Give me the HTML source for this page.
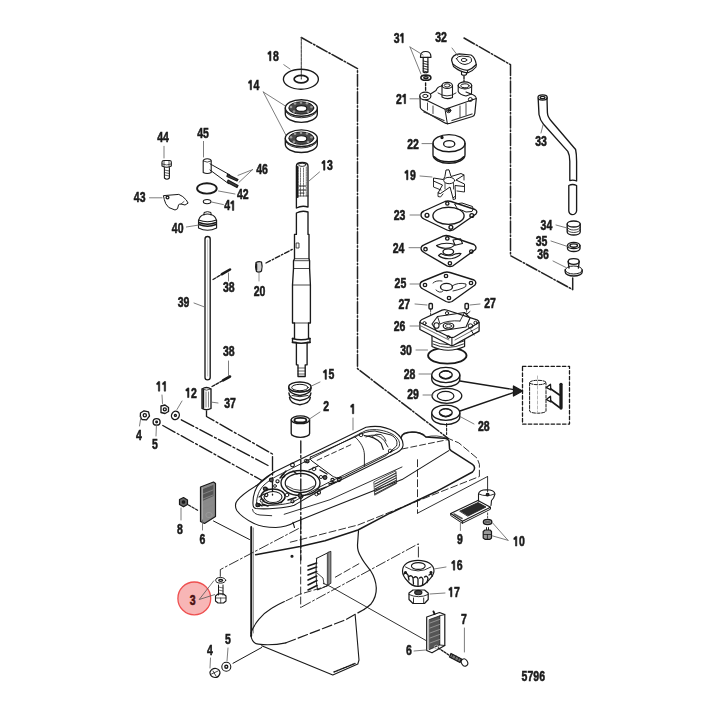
<!DOCTYPE html>
<html><head><meta charset="utf-8"><style>
html,body{margin:0;padding:0;background:#fff;width:720px;height:720px;overflow:hidden}
svg{display:block}
text{font-family:"Liberation Sans",sans-serif;font-weight:bold;font-size:14px;text-anchor:middle;stroke:#1a1a1a;stroke-width:0.55px}
</style></head><body>
<svg width="720" height="720" viewBox="0 0 720 720">
<rect width="720" height="720" fill="#fff"/>
<g fill="none" stroke="#1a1a1a" stroke-width="1.35" stroke-linejoin="round" stroke-linecap="round">
<!-- ===== dashed frames ===== -->
<g stroke="#222" stroke-width="1.5" stroke-dasharray="12,2,1.5,2">
<path d="M301.3,37.5 L357.5,68.6 L357.5,368.7 L436,429 L448,438.3"/>
<path d="M464,38 L510.5,64.7 L510.5,255.6 L572.7,289.6 L572.7,278"/>
</g>
<path d="M301.3,37.5 L301.3,79" stroke-width="1.1" stroke="#444" stroke-dasharray="3,1"/>
<!-- ===== washer 18 ===== -->
<ellipse cx="300.9" cy="79.2" rx="17.5" ry="10"/>
<ellipse cx="301.1" cy="79.1" rx="7" ry="3.8" stroke-width="1.7"/>
<!-- ===== bearings 14 ===== -->
<g id="brg">
<path d="M285.3,108 L285.3,114 A16,8.3 0 0 0 317.3,114 L317.3,108"/>
<path d="M285.5,111 A16,8 0 0 0 317.1,111" stroke-width="0.9"/>
<ellipse cx="301.3" cy="108" rx="16" ry="8.3" fill="#fff"/>
<ellipse cx="301.3" cy="108" rx="12.5" ry="6.2" fill="#4a4a4a" stroke-width="1"/>
<g fill="#999" stroke="none"><circle cx="291" cy="107" r="1.3"/><circle cx="295" cy="103.5" r="1.3"/><circle cx="307" cy="103.3" r="1.3"/><circle cx="311.5" cy="107" r="1.3"/><circle cx="308" cy="111.8" r="1.3"/><circle cx="294" cy="111.5" r="1.3"/><circle cx="301" cy="102.6" r="1.2"/></g>
<ellipse cx="301.3" cy="108.5" rx="5.5" ry="2.9" fill="#fff" stroke-width="1.1"/>
</g>
<use href="#brg" transform="translate(0,30.2)"/>
<!-- ===== shaft 13 ===== -->
<path d="M296.4,208 L296.4,166 Q296.4,162.5 302.2,162.5 Q308,162.5 308,166 L308,207 Q302,205 296.4,208"/>
<path d="M297.6,167 L297.6,197" stroke-width="2" stroke-dasharray="2,0.8"/>
<path d="M300.5,168 L300.5,196 M303.5,168 L303.5,196 M306.3,167 L306.3,196" stroke-width="0.8" stroke-dasharray="1.5,1" stroke="#555"/>
<ellipse cx="302.2" cy="164.8" rx="3.6" ry="1.6" stroke-width="0.9"/>
<path d="M299,186 L306,186 M299,190 L306,190 M300,193 L305,193" stroke-width="1.1" stroke-dasharray="1.5,1"/>
<path d="M296.4,196 L308,196" stroke-width="0.7"/>
<path d="M296.4,213 Q302,210 308,212 L308,234.4 L309,234.4 L309,258.7 L309.6,260.7 L309.6,268.5 L310.4,285 L310.4,323 L308.5,323 L308.5,338.5 L310,338.5 L310,342.4 L307.1,342.4 L307.1,364.8 L305.2,364.8 L305.2,376.5 L298,376.5 L298,364.8 L296.4,364.8 L296.4,342.4 L292.5,342.4 L292.5,338.5 L294.5,338.5 L294.5,323 L292.5,323 L292.5,285 L293.5,268.5 L293.5,260.7 L294.5,258.7 L294.5,234.4 L296.4,234.4 Z"/>
<path d="M294.5,258.7 L309,258.7 M293.5,260.7 L309.6,260.7 M293.5,268.5 L309.6,268.5 M292.5,285 L310.4,285 M294.5,323 L308.5,323" stroke-width="0.8"/>
<path d="M292.5,338.5 Q301,341 310,338.5 M292.5,342.4 Q301,344 310,342.4" stroke-width="1.6"/>
<path d="M298,368 L305,368 M298,371 L305,371 M298,374 L305,374" stroke-width="0.7"/>
<rect x="296.5" y="243" width="2.5" height="5" stroke-width="0.8"/>
<!-- key 20 -->
<path d="M256,262.5 Q258.5,261 261.5,262 Q262.8,266.5 261.5,271 Q259,272.8 256.5,271.5 Q255,266.5 256,262.5 Z" stroke-width="1.2" fill="#d0d0d0"/>
<path d="M256.5,264 L256.5,270" stroke-width="1.5"/>
<path d="M266,263 L293,249" stroke-dasharray="5,2,1.5,2"/>
<path d="M259,272 L259,281" stroke="#777" stroke-width="0.8"/>
<!-- ===== rod 39 ===== -->
<path d="M205,239 Q205,236.5 207.5,236.5 Q210.2,236.5 210.2,239 L210.2,377.5 Q210.2,379.8 207.5,379.8 Q205,379.8 205,377.5 Z"/>
<path d="M207.6,240 L207.6,376" stroke-width="0.5" stroke="#888"/>
<!-- pins 38 -->
<path d="M222,274.2 L230,269.5" stroke-width="2.6"/>
<path d="M213,279.5 L221,274.8" stroke-dasharray="3,1.5"/>
<path d="M223,380.4 L230,376.5" stroke-width="2.6"/>
<path d="M212,386.5 L222,381" stroke-dasharray="3,1.5"/>
<!-- coupler 37 -->
<path d="M202,389 L202,408.5 Q206.5,411 211,408.5 L211,389 Q206.5,386 202,389 Z"/>
<path d="M202,389 Q206.5,391.5 211,389" stroke-width="0.8"/>
<path d="M203.3,390 L203.3,408" stroke-width="1.8"/><path d="M206,392 L206,407 M208.5,392 L208.5,407" stroke-width="0.8" stroke="#666"/>
<!-- ===== 44 bolt ===== -->
<path d="M162,162 Q162,160.5 164,160.5 L169.5,160.5 Q171.3,160.5 171.3,162 L171.3,166 Q166.6,168.5 162,166 Z" stroke-width="1.1"/>
<path d="M162,164 Q166.6,166 171.3,164 M164,160.7 L164,166.5 M169,160.7 L169,166.5" stroke-width="0.7"/>
<path d="M164.4,167.5 L164.4,178 Q166.9,180.5 169.4,178 L169.4,167.5" stroke-width="1.1"/>
<path d="M164.4,170 L169.4,171 M164.4,172.5 L169.4,173.5 M164.4,175 L169.4,176" stroke-width="0.7"/>
<!-- 45 / 46 lever -->
<path d="M203.2,161 Q203.5,158.8 207.2,158.8 Q211,158.8 211.2,161 L211.2,172.5 Q207.2,174.5 203.2,172.5 Z" stroke-width="1.1"/>
<path d="M203.2,161 Q207.2,163.5 211.2,161" stroke-width="0.8"/>
<path d="M210,163.8 L230,175 M210,170 L228.8,183.8" stroke-width="1"/>
<path d="M227.5,174.4 L238,179.5 L237,181 L227,176.5 Z M228,180 L238,185.5 L237,187.5 L227.5,182.5 Z" stroke-width="1.2" fill="#444"/>
<!-- 42 o-ring -->
<ellipse cx="206.9" cy="188.4" rx="9.8" ry="5.2" stroke-width="1.9"/>
<!-- 41 -->
<ellipse cx="207.1" cy="201.6" rx="3.8" ry="2.1" stroke-width="1.1"/>
<!-- 43 plate -->
<path d="M163.8,195.6 L178.8,194.4 Q183,196 186.3,200 L188.1,203.1 L185,205 L181,204 Q178.8,203.8 178.5,205 L177.5,208.8 L175,210 L168.8,207.5 Q165,204 164.4,200 Z" stroke-width="1"/>
<circle cx="167.5" cy="197.5" r="1.4"/>
<path d="M181,204 L184,201.5" stroke-width="0.7"/>
<!-- 40 -->
<path d="M204,215 L204,212.5 Q207.5,210.8 211,212.5 L211,215" stroke-width="1"/>
<path d="M198.8,220 Q199.5,216 204,214.5 Q207.5,213.5 211,214.5 Q215.5,216 216.3,220" stroke-width="1.1"/>
<path d="M198.5,220 L198.5,228 Q207.5,232.5 216.6,228 L216.6,220 Q207.5,223.5 198.5,220 Z" stroke-width="1.1"/>
<path d="M199,222.5 Q207.5,226 216,222.5 M199,224.5 Q207.5,228 216,224.5" stroke-width="1.5"/>
<!-- ===== small parts 11,12,4,5 ===== -->
<path d="M161,406 L165,405 L168.5,407.5 L168.5,411.5 L165,413.5 L161,412.5 Z"/>
<circle cx="164.8" cy="409.3" r="1.5"/>
<ellipse cx="175.4" cy="415.4" rx="3.8" ry="4.3" transform="rotate(30 175.4 415.4)"/>
<circle cx="175.4" cy="415.4" r="1"/>
<path d="M140.5,413 L144,410.8 L148.5,411.8 L149.5,416 L146.5,419.8 L142,419.5 L140.3,416.5 Z" stroke-width="1.3"/><circle cx="144.8" cy="415.3" r="1.6"/>
<ellipse cx="156.6" cy="421.9" rx="3.5" ry="3.2"/>
<circle cx="156.6" cy="421.9" r="0.8"/>
<!-- assembly lines -->
<g stroke-dasharray="14,2.5,2,2.5">
<path d="M206.5,411 L206.5,416.5 L272.5,454 L272.5,495"/>
<path d="M181.3,419.8 L268,465.5"/>
<path d="M162.8,425.5 L262,480.5"/>
</g>
<!-- ===== spring 15 / bushing 2 ===== -->
<g stroke-width="1.4">
<ellipse cx="299.9" cy="387" rx="11.2" ry="5"/>
<ellipse cx="299.9" cy="387.5" rx="8.2" ry="3.2" stroke-width="1"/>
<path d="M288.7,388 Q288.5,393.5 299.9,395.5 Q311.3,393.5 311.1,388"/>
<path d="M288.9,393 Q289,399 299.9,400.5 Q310.8,399 310.9,393"/>
<path d="M289.5,397.5 Q290,403.5 299.9,404.7 Q309.8,403.5 310.3,397.5"/>
<path d="M292,391 Q299.9,393.5 308,391 M292,395.5 Q299.9,398 308,395.5" stroke-width="0.9"/>
</g>
<ellipse cx="300.4" cy="419.8" rx="9.2" ry="3.9"/>
<ellipse cx="300.4" cy="420.2" rx="6" ry="2.3" stroke-width="1.8"/>
<path d="M291.2,419.8 L291.2,433.4 A9.2,3.9 0 0 0 309.6,433.4 L309.6,419.8"/>
<path d="M300.8,441 L300.8,560" stroke-dasharray="12,2.5,2,2.5"/>
<!-- ===== pump: 31 bolt, 32 cap ===== -->
<path d="M420.5,56.5 Q420.5,51.5 425.6,51.5 Q430.9,51.5 430.9,56.5 L430.9,57.4 L420.5,57.4 Z" stroke-width="1.2"/>
<path d="M423.2,57.4 L423.2,72 Q425.6,73.5 427.9,72 L427.9,57.4" stroke-width="1.2"/>
<path d="M423.2,61 L427.9,62 M423.2,63.5 L427.9,64.5 M423.2,66 L427.9,67 M423.2,68.5 L427.9,69.5 M423.2,71 L427.9,72" stroke-width="0.9"/>
<ellipse cx="425.9" cy="77.7" rx="5" ry="2.6" stroke-width="1.6"/>
<ellipse cx="425.9" cy="77.7" rx="2.2" ry="1" />
<path d="M425.6,82.8 L425.6,91" stroke-dasharray="3,1.5"/>
<path d="M451.6,60.3 Q452,55 459.2,53.9 L471,55 Q475,57 476.3,64.5 Q472,69 467.5,70.4 Q460,70 452.7,63.9 Z" stroke-width="1.2"/>
<path d="M452.7,63.9 L453.5,66.5 Q460,72 467.5,73 Q473,71 476,67 L476.3,64.5 M467.5,70.4 L467.5,73" stroke-width="1.1"/>
<path d="M456.5,58.5 Q458,56 462,56 L469.5,56.8 Q472,58 471.5,61.5 Q469,64 465,64.5 Q459,64 456.5,58.5 Z" stroke-width="1"/>
<ellipse cx="464" cy="60" rx="2.8" ry="1.6" stroke-width="0.9"/>
<path d="M461.5,72 L461.5,74.5 Q464,76 466.5,74.5 L466.5,72.5" stroke-width="1.1"/>
<path d="M464,76 L464,81.6" stroke-dasharray="3,1.5"/>
<!-- 21 cover -->
<path d="M420,96.5 L420.3,107.6 Q421,109.5 423,110.5 L444,122.5 Q447.4,124.5 451,123 L472.5,116.5 Q474.6,115.5 474.8,113.5 L476.3,98.5" stroke-width="1.2"/>
<path d="M425.5,99.8 L445,109.2 L476.3,98.5 Q476,95.5 471,94 L466,92" stroke-width="1.1"/>
<path d="M445,109.2 L447.4,124" stroke-width="1"/>
<path d="M430.5,94 L436,90.5 Q437,87 441.5,86 L442,85.5" stroke-width="1.1"/>
<ellipse cx="425.3" cy="96" rx="5.6" ry="3.8" stroke-width="1.2"/>
<ellipse cx="425.3" cy="96" rx="2.6" ry="1.6" stroke-width="1"/>
<path d="M442,85.4 L442,97 Q447,100 452.5,97.5 L452.5,85.4" stroke-width="1.1"/>
<ellipse cx="447.2" cy="85.4" rx="5.2" ry="3" stroke-width="1.1"/>
<ellipse cx="447.2" cy="85.4" rx="3" ry="1.6" stroke-width="0.9"/>
<path d="M438,93 Q447,99 456,93" stroke-width="0.9"/>
<path d="M458.2,85.4 L458.2,91.5 Q460,95 466,96 L471.5,94 L471.7,85.4" stroke-width="1.1"/>
<ellipse cx="464.9" cy="85.4" rx="6.8" ry="3.5" stroke-width="1.1"/>
<ellipse cx="464.9" cy="85.8" rx="4.2" ry="2" stroke-width="1"/>
<circle cx="448.6" cy="110.5" r="2.2" stroke-width="1"/><circle cx="448.6" cy="110.5" r="0.8" fill="#222"/>
<circle cx="470.4" cy="99.5" r="2" stroke-width="1"/>
<path d="M427.5,103 L427.5,110 M433,106 L433,113.5 M460,106 L460,117.5 M466,103.5 L466,115" stroke-width="0.8"/>
<path d="M424,112 L444,120.5 M452,120.5 L472,114" stroke-width="1.3" stroke="#333"/>
<!-- 22 liner -->
<path d="M433,143.2 L433,154.7 A16,8.6 0 0 0 465,154.7 L465,143.2"/>
<ellipse cx="449" cy="143.2" rx="16" ry="8.6"/>
<ellipse cx="449.2" cy="143.9" rx="5.6" ry="3.3"/>
<path d="M434.5,157 A16,8.3 0 0 0 463.5,157" stroke-width="1.7"/>
<circle cx="442" cy="137.5" r="1" fill="#222"/>
<!-- 19 impeller -->
<g stroke-width="1">
<path d="M445,176 L446,170 L449,169.8 L451,176.5 L461,173.5 L464,175 L456,180 L464.5,184 L464.5,186.5 L455,185.5 L455.5,196 L453,198 L450,187 L440.5,193.5 L438,193 L442.5,185 L433.5,181 L433.5,178 L443,179.5 Z"/>
<path d="M433.5,181 L433.5,187 L441,190 M438,193 L438,196.5 L440.5,197 L443,194 M453,198 L453,199.5 L455.5,199 L455.5,196 M464.5,186.5 L464.5,192 L457,191 M464,175 L464,180" stroke-width="0.9"/>
<ellipse cx="449.2" cy="180.5" rx="5.5" ry="3.2"/>
<path d="M445,183 L445,189 M453.5,183 L453.5,189" stroke-width="0.8"/>
</g>
<!-- 23 gasket -->
<path d="M421,215 Q421,212 424,211 L445,201.5 Q448,200.5 451,201.5 L475,209.5 Q478,211 476,214 L453,230 Q450,231.5 447,230 L424,219 Q421,217.5 421,215 Z"/>
<ellipse cx="448.5" cy="215.8" rx="15.6" ry="8.6"/>
<circle cx="427" cy="215.3" r="1.9"/><circle cx="447.3" cy="203.5" r="1.6"/><circle cx="471.8" cy="215.5" r="1.9"/><circle cx="450.9" cy="227.3" r="1.9"/>
<path d="M455,204 L462,203 L472.5,206.5 Q474,209 472,211.5 L466,212 Q462,210 458,209 Z" stroke-width="1"/>
<!-- 24 plate -->
<path d="M421,248.6 Q421,246 424,244.8 L443,236.2 Q446,235 449,236 L474,244.5 Q477,246.5 475.5,249.5 L453,265.8 Q450,267.3 447,265.8 L424,252.5 Q421,251 421,248.6 Z"/>
<circle cx="425.5" cy="249.2" r="1.7"/><circle cx="447.3" cy="238.4" r="1.7"/><circle cx="471.3" cy="251.5" r="1.7"/><circle cx="449.9" cy="263.3" r="1.7"/>
<ellipse cx="448.3" cy="251.8" rx="5.3" ry="3"/>
<path d="M453,240 L460.5,238.8 L462.5,243.5 L455,245.3 Z" stroke-width="1.1"/>
<path d="M436.5,245.5 Q445,241.5 455,244.5 Q452,248.5 445,248.3 Q439,248 436.5,245.5 Z" stroke-width="1.1"/>
<path d="M438.5,255.5 Q443,259.5 452,258.5 Q459,257 461,253.5 Q456,253 452,255.5 Q446,256.5 441,253.5 Z" stroke-width="1.1"/>
<!-- 25 gasket -->
<path d="M420,285 Q420,282 423,281 L444,272.5 Q447,271.5 450,272.5 L474,280 Q477,282 475,285 L452,301.5 Q449,303 446,301.5 L423,289 Q420,287.5 420,285 Z"/>
<circle cx="425" cy="285" r="1.7"/><circle cx="446" cy="276" r="1.7"/><circle cx="471" cy="283" r="1.7"/><circle cx="449" cy="298" r="1.7"/>
<ellipse cx="446.5" cy="287" rx="6" ry="3.6"/>
<path d="M433,283 Q436,280 442,281 M436,290 Q440,294 443,291 M452,286 Q458,282 466,284 Q467,287 463,288 Q458,290 453,291" stroke-width="0.9"/>
<!-- 27 pins -->
<rect x="429" y="303.5" width="3.4" height="5.5" rx="1"/>
<rect x="465" y="303.5" width="3.4" height="5.5" rx="1"/>
<path d="M430.6,309.5 L430.6,317 M466.6,309.5 L466.6,320" stroke-dasharray="2,1.5" stroke-width="0.8"/>
<!-- 30 o-ring -->
<ellipse cx="447.3" cy="355.6" rx="19.2" ry="8" stroke-width="1.9"/>
<!-- 26 pump base -->
<path d="M432,334 L432,346.5 Q448,354 464.6,346.5 L464.6,334 Z" fill="#fff" stroke-width="1.2"/>
<path d="M432.5,341 Q448,348.5 464,341 M433,344 Q448,351 463.5,344" stroke-width="1" stroke="#333"/>
<path d="M419.9,322.4 Q420,320.5 422,319.5 L442,310.2 Q444.2,309.3 446.5,310 L477,319.8 Q479.1,320.9 479.1,323 L479.1,331.1 L454,345 Q451.9,346.2 449.8,345 L419.9,329.5 Z" fill="#fff" stroke-width="1.3"/>
<path d="M419.9,322.4 L449.5,337 Q451.9,338 454.3,337 L479.1,322.5 M451.9,338 L451.9,345.7" stroke-width="1.1"/>
<path d="M421,326 L449,340 M455,340 L478,327.5" stroke-width="0.8" stroke="#444"/>
<path d="M432,324 L437.5,316.5 L464.5,312.5 L470,318 L466,327 L437,331.5 Z" stroke-width="1.1"/>
<ellipse cx="448.5" cy="326" rx="5.3" ry="3" stroke-width="1.2"/>
<ellipse cx="448.5" cy="326" rx="3.2" ry="1.6" stroke-width="0.8"/>
<path d="M437.5,316.5 L440,324 M464.5,312.5 L460,321 M440,324 Q448,320 460,321" stroke-width="0.9"/>
<ellipse cx="436.5" cy="325.5" rx="2.6" ry="2.8" stroke-width="1.1"/>
<ellipse cx="470.5" cy="326" rx="2.4" ry="2.2" stroke-width="1"/>
<circle cx="424.5" cy="323.2" r="1.6" stroke-width="1"/><circle cx="447" cy="313.2" r="1.6" stroke-width="1"/><circle cx="475.5" cy="322.8" r="1.6" stroke-width="1"/><circle cx="448.5" cy="337" r="1.4" stroke-width="1"/>
<path d="M467,314 L470,311.5 M471,330 L474,335" stroke-width="1"/>
<!-- 28,29,28 -->
<g id="w28">
<path d="M431.8,375 L431.8,379.2 A14,7.6 0 0 0 459.8,379.2 L459.8,375"/>
<ellipse cx="445.8" cy="375" rx="14" ry="7.6" fill="#fff"/>
<ellipse cx="445.8" cy="374.8" rx="6.4" ry="4" stroke-width="1.4"/>
<path d="M440.5,376.5 Q445.8,381 451,376.5" stroke-width="1.6"/>
<path d="M441,372.5 Q445.8,369.5 450.5,372.5" stroke-width="1"/>
</g>
<use href="#w28" transform="translate(0,37.8)"/>
<ellipse cx="446.9" cy="395.8" rx="14.9" ry="7.5" stroke-width="1.3"/>
<ellipse cx="445.6" cy="396" rx="8.3" ry="4.6" stroke-width="1.2"/>
<path d="M460,381 L514,389.6 M460,411 L514,392.4"/>
<path d="M522.5,391 L513.5,386 L513.5,396 Z" fill="#222"/>
<rect x="522.5" y="366.3" width="47" height="57.8" stroke-dasharray="3.5,2.2" stroke-width="1.3"/>
<g stroke-dasharray="3,1.5" stroke-width="1">
<path d="M529.6,383 L529.6,411 A8.2,2.2 0 0 0 546,411 L546,383.5"/>
<ellipse cx="537.8" cy="382.5" rx="8.2" ry="2.2"/>
</g>
<path d="M537.5,376 L537.5,412" stroke-dasharray="3,2" stroke-width="0.7" stroke="#999"/>
<path d="M561,384.3 L561,408.1" stroke-width="3.3"/>
<path d="M549.5,388 L559.5,395 M549.5,400 L559.5,407.5" stroke-width="1.6"/>
<path d="M546.3,387.5 L550.5,384.3 L550.8,389.8 Z M546.3,399.5 L550.5,396.3 L550.8,401.8 Z" stroke-width="1.3" fill="#fff"/>
<!-- 33 tube -->
<path d="M538.2,98.9 L539,114.5 Q540,120 543.5,124.2 L567.8,151.4 Q569.8,155 569.8,161.2 L569.8,180.6 Q573,179.5 576.6,181 L576.6,161.2 Q576.6,154 575.6,149.5 L552.3,122.3 Q547.4,117 547.4,112.5 L547,98"/>
<ellipse cx="542.6" cy="97.5" rx="4.6" ry="2.6"/>
<ellipse cx="542.6" cy="97.5" rx="2.4" ry="1.2"/>
<path d="M568.8,185.5 Q572.5,183.5 576.6,185.5 L576.6,211 Q576,214.5 572,214.7 Q569,214 568.8,211 Z"/>
<!-- 34 35 36 -->
<path d="M567.2,224 L567.2,232 A6.5,3 0 0 0 580.2,232 L580.2,224"/>
<ellipse cx="573.7" cy="224" rx="6.5" ry="3" stroke-width="1.3"/>
<path d="M567.2,227 A6.5,3 0 0 0 580.2,227 M567.2,229.5 A6.5,3 0 0 0 580.2,229.5" stroke-width="0.8"/>
<path d="M567.5,245.5 L567.5,248.5 A6.2,3 0 0 0 580,248.5 L580,245.5"/>
<ellipse cx="573.7" cy="245.5" rx="6.2" ry="3.2" stroke-width="1.3"/>
<ellipse cx="573.7" cy="245.5" rx="3.8" ry="1.7"/>
<ellipse cx="573.7" cy="261.5" rx="5.5" ry="2.8" stroke-width="1.3"/>
<path d="M568.2,261.5 L569,268 M579.2,261.5 L578.4,268"/>
<path d="M565.2,270 A8.5,4 0 0 0 582.2,270 A8.5,4 0 0 0 565.2,270 Z" stroke-width="1"/>
<path d="M565.2,270 L565.2,272 A8.5,4 0 0 0 582.2,272 L582.2,270" />
<!-- ===== HOUSING ===== -->
<!-- plate outer (nose) -->
<path d="M274.3,472 C269,475.5 263,481 256.9,485.3 C250,489.5 241,495.5 237.2,500.6 C235.3,503 235,507 237,510.8 C240,515 247,520 253.6,523.3 C259,526 268,527.5 275.8,527.5 C283,527.3 290,525 295.3,522 L330,508 L402,479.6 L448.8,450.6" stroke-width="1.1"/>
<!-- deck -->
<path d="M253,504 C252.5,496 255.5,487 261,481.5 C265,478 269,475 274.3,472 L366,427.3 C375,425.5 386,426.5 395,432 C400.5,436 403.5,441 403,445.6 C402.5,449 400,451 397,452.5 L330.6,485 C318,491 305,499 294.2,505.3 C286,508 266,509.5 256,508.5 C253.5,508 253,506 253,504 Z" stroke-width="1.1"/>
<path d="M256.5,503.5 C256.5,497 259,490 264,485 C268,481.5 272,478.5 277,476 L366,430.5 C375,428.5 385,430 393,434.5 C397.5,437.5 400,441 399.5,445 C399,447.5 397.5,448.5 395.5,449.5 L329.5,482 C317,488 304,496 293,502 C285,505 267,506 259,505.5 Z" stroke-width="0.9"/>
<path d="M252.5,509.5 C253,513 256,514.5 260,515 L271.7,515.7 M284.2,514.3 L330,499.7 L402,467" stroke-width="0.9"/>
<!-- bores -->
<ellipse cx="300.5" cy="483" rx="15.3" ry="9.7" stroke-width="1.2"/>
<ellipse cx="300.5" cy="483" rx="19.5" ry="12.5"/>
<path d="M287,486 Q300.5,495 314,486" stroke-width="0.8"/>
<ellipse cx="273" cy="497" rx="9" ry="5.5" stroke-width="1.1"/>
<ellipse cx="273" cy="496.5" rx="12" ry="7.5"/>
<g stroke-width="0.9">
<circle cx="262" cy="500.5" r="1.8"/><circle cx="266" cy="489" r="1.8"/><circle cx="283" cy="476" r="1.8"/>
<circle cx="287" cy="495" r="1.8"/><circle cx="314" cy="469" r="1.8"/><circle cx="316.5" cy="494" r="1.8"/>
<circle cx="306" cy="461" r="1.8"/><circle cx="339.7" cy="479.2" r="1.8"/><circle cx="361.1" cy="434.9" r="1.8"/>
<circle cx="390.1" cy="450.9" r="1.8"/><circle cx="259" cy="505" r="1.6"/><circle cx="301" cy="497" r="1.6"/>
<circle cx="275" cy="486" r="1.4"/><circle cx="321" cy="477" r="1.6"/>
</g>
<path d="M259,497 L264,494 M257,503 L262,506 M281,503 L285,498 M293,471 L297,474 M309,470 L318,466 M318,490 L326,487" stroke-width="1.2"/>
<!-- extra deck detail -->
<g stroke-width="1.1">
<circle cx="271.3" cy="480" r="1.9" fill="#555"/><circle cx="277.5" cy="481.3" r="1.6"/>
<circle cx="292.5" cy="465" r="1.9"/><circle cx="307.5" cy="461.3" r="1.6" fill="#666"/>
<circle cx="325" cy="477.5" r="1.9" fill="#555"/><circle cx="332.5" cy="480" r="1.6"/>
<circle cx="338.8" cy="480" r="1.6"/><circle cx="265" cy="488.8" r="1.7" fill="#555"/>
<circle cx="266.3" cy="495" r="1.6"/><circle cx="300" cy="495.5" r="1.9" fill="#555"/>
<circle cx="318.8" cy="492.5" r="1.7"/><circle cx="257.5" cy="505" r="1.7" fill="#444"/>
<circle cx="292.5" cy="501.3" r="1.6"/>
</g>
<path d="M280,478 L286,471 M288,500 L296,497.5 M262,504 L268,506 M320,470 L327,474 M329,484 L336,482" stroke-width="1.4"/>
<path d="M364.4,435.6 C370,436 377,439 381.1,443.3 L383.3,449.5" stroke-width="1.1"/><path d="M372,436.5 Q376,433 381,434.5 Q385,437 386,441" stroke-width="0.9"/>
<!-- rear opening -->
<path d="M310.5,457 L356,436.5 C362,433 368,431 375,431 L391,435 C396,437.5 398,441.5 396.5,446 L386,455.5 L344.5,476.5 C338,479 334,477.5 331,475 L312,461 C310,459.5 309.5,458 310.5,457 Z" stroke-width="1"/>
<path d="M354.7,436.7 C361,442 364.4,449 364.4,455 L364.4,466" stroke-width="0.9"/>
<path d="M366,437 C372,433.5 380,435 384.5,441 L388,447" stroke-width="0.9"/>
<path d="M317.2,460.3 L353.3,443.6" stroke-dasharray="5,3" stroke-width="0.9"/>
<!-- plate behind deck (bump, tip, right edge, bottom) -->
<path d="M401,437.8 C402,433.5 406,432 412,432 C418,432 423,434 426,437 L447,438.5 L449,441 L449.6,449 L451,450.6 L472.5,464.3 C475,466 475.5,469.5 472.5,472 L435.8,491.8 L390,513.2 L358,530 L325,540.8 L300,546.5 L255.6,554.7" stroke-width="1.5"/>
<path d="M404,434 Q415,430 424,434.5 M426,437 Q437,434 447,438.5" stroke-width="0.8"/>
<path d="M402,449 L446.5,439.9" stroke-dasharray="6,3" stroke-width="0.9"/>
<path d="M446.6,423.5 L446.6,434.5" stroke-dasharray="3,1.5" stroke-width="1.1"/>
<!-- decal -->
<path d="M374.2,481.7 L395.8,470.8 L396.7,483.3 L375,495 Z" stroke-width="0.7"/>
<path d="M375,484 L396,473 M375,486.5 L396,475.5 M375,489 L396,478 M375,491.5 L396,480.5 M375,494 L396,483" stroke-width="1.2" stroke="#333"/>
<!-- strut -->
<path d="M251.2,527 L251.2,636" stroke-width="1.9"/><path d="M253.3,528 L253.3,633" stroke-width="0.8" stroke="#666"/>
<path d="M250.8,635 Q252,643.5 258.3,644.2 C268,645.3 278,644.5 286,642.8" stroke-width="1.2"/>
<path d="M286,642.8 L345,620 L364,609.5" stroke-width="1.2" stroke-dasharray="10,3"/>
<path d="M364,609.5 C367,607.5 369,606 371,604 C374,600 376.5,595 376.3,588 C376,582 374,576 370.5,570.5 C367,566 363.5,562 361,557 C358.5,553 357.3,550 357.5,545 L358.5,530.7" stroke-width="1.2"/>
<path d="M250.8,633.3 C254,624 262,614 271.7,608.3 C276,605.5 280,603.5 284.4,601.5" stroke-width="1.1"/>
<path d="M261.7,645.8 L332.8,675 L357.8,664 L359,660 L355.2,615.3" stroke-width="1.1"/>
<path d="M334,672 L355,663.5" stroke-width="1.4" stroke-dasharray="1.5,1"/>
<!-- hidden dashed rect & lines -->
<g stroke-dasharray="7,3" stroke-width="0.9">
<path d="M300.7,517 L300.7,607.5"/>
<path d="M290.3,542.2 L358,525"/>
<path d="M286,600.8 L299.4,594.4 L327.2,586.1"/>
<path d="M358.8,563.8 L333,578.5"/>
<path d="M417.5,459.7 L417.5,513.2"/>
<path d="M358,525 L430,496 L479.4,476.5 L479.4,464.3 L477.1,458.2 L458.8,442.9 L448,438.3"/>

</g>
<path d="M417.5,513.2 L487.6,476.5" stroke-width="0.9"/>
<path d="M418.4,557 L418.4,543.8 L300.7,607.5" stroke-dasharray="10,2.5,2,2.5" stroke-width="0.9"/>
<!-- intake screen -->
<path d="M316.7,558.3 L330.8,551.3 L330.8,583.3 L325,586.7 L317.5,590 Q315,575 316.7,558.3 Z" stroke-width="1"/>
<path d="M327.5,553 L327.5,584.5 M329,552 L329,584" stroke-width="1.3" stroke="#555"/>
<path d="M308,566 L316.7,563 M308,570 L316.7,567 M308,575 L316.7,571.5 M308,580 L316.7,576 M308,585 L317,580.5 M308,590 L317,585.5" stroke-width="1.6"/>
<path d="M317,573 L323,578 L324,584" stroke-width="0.8"/>
<circle cx="292" cy="556.3" r="0.9" fill="#222"/>
<path d="M293,522.3 L294.5,527.5" stroke-width="1.1"/>
<!-- lines to intake / 6 / 3 / 5 -->
<path d="M323.3,583.3 L330,586.3 L426,640.5" stroke-width="0.9"/>
<path d="M220.3,576.4 L220.3,569.6 L300,527.8" stroke-dasharray="10,2.5,2,2.5" stroke-width="0.9"/>
<path d="M233,663.3 L261.7,647.5" stroke-width="1"/>
<path d="M213.5,521 L249.5,539.5" stroke-width="1"/>
<!-- 8 nut / 6 upper -->
<path d="M179.5,499.5 L183.5,497.5 L187.5,500 L187.5,504.5 L183.5,506.8 L179.5,504.5 Z" stroke-width="1.2" fill="#666"/>
<circle cx="183.5" cy="502" r="1.2" fill="#222"/>
<path d="M188.5,505 L198,510.5" stroke-dasharray="2.5,1.5" stroke-width="1.2"/>
<path d="M200.5,487 L213.5,482 L215.5,483.5 L215.5,516.5 L204.5,523.5 L200.5,521.5 Z" stroke-width="1.2" fill="#8a8a8a"/>
<path d="M202.5,489 L213.5,484.5 L213.5,496 L202.5,501 Z" fill="#555" stroke="none"/>
<path d="M203,488.5 L213,484.5 M203,494 L213,490 M203,499 L213,495 M203,504 L213,500 M203,509 L213,505" stroke="#888" stroke-width="0.9"/>
<path d="M202.5,488 L202.5,521" stroke="#aaa" stroke-width="0.9"/>
<ellipse cx="209" cy="515" rx="3.2" ry="2.6" stroke="#999" stroke-width="1"/>
<!-- 3 washer & bolt -->
<ellipse cx="220.7" cy="580.3" rx="5" ry="2.8" stroke-width="1"/>
<ellipse cx="220.7" cy="580.3" rx="2" ry="1"/>
<path d="M218.5,585 L218.5,595 M223,585 L223,595" stroke-width="1"/>
<path d="M218.5,587 L223,588 M218.5,590 L223,591 M218.5,593 L223,594" stroke-width="0.6"/>
<path d="M215.5,596 L218,594 L223.5,594 L226,596 L226,601 L223.5,603 L218,603 L215.5,601 Z" stroke-width="1.1"/>
<path d="M215.5,598 L226,598 M220.7,598 L220.7,603" stroke-width="0.7"/>
<!-- 5 & 4 lower -->
<circle cx="226.3" cy="666.7" r="4.5" stroke-width="1.1"/>
<circle cx="226.3" cy="666.7" r="1.5"/>
<path d="M210,672 Q212,668 216,668.5 Q220,669.5 220,673 Q219,677.5 215,677.5 Q210.5,677 210,673 Z" stroke-width="1.2"/>
<path d="M211.5,674 L218,671 M213,671 L216,676" stroke-width="0.8"/>
<!-- 9 anode, 10 -->
<path d="M450.7,513.5 L477.9,500.4 L490.5,507.2 L462.4,521.3 Z" stroke-width="1.1"/>
<path d="M450.7,513.5 L450.7,515.5 L462.4,523.3 L490.5,509.2 L490.5,507.2 M462.4,521.3 L462.4,523.3" stroke-width="1"/>
<path d="M460,511 L478,502.5 L486,507 L468,516 Z" fill="#2a2a2a" stroke-width="0.8"/>
<path d="M454,514 L462,518.5" stroke-width="1.6" stroke="#555"/>
<path d="M478.5,501 L478.5,494 Q479,490 486.6,489.8 Q494.5,490 495,494 L493.5,498 L491.5,500.5 L491,505.5" stroke-width="1.1"/>
<path d="M478.8,494 Q486.6,497.5 494.5,494" stroke-width="0.9"/>
<circle cx="487.6" cy="494.6" r="1.3" fill="#333"/>
<path d="M487.6,491.8 L487.6,477" stroke-width="0.9"/>
<path d="M487.6,513 L487.6,518" stroke-dasharray="2,1.5" stroke-width="0.8"/>
<ellipse cx="487.6" cy="522" rx="4.2" ry="2.6" stroke-width="1.4" fill="#999"/>
<path d="M485.5,522 L489.5,522" stroke-width="0.8"/>
<path d="M486.5,527.6 L486.5,530.5 M488.5,527.6 L488.5,530.5" stroke-width="1"/>
<path d="M483.2,531.5 L485,530 L490,530 L491.5,531.5 L491.5,538 L490,539.3 L485,539.3 L483.2,538 Z" stroke-width="1.2" fill="#999"/>
<path d="M483.5,534.5 L491.3,534.5 M487.4,534.5 L487.4,539" stroke-width="0.8"/>
<!-- 16 gear -->
<path d="M402.5,571 C402.5,564 409.5,560.3 418,560.3 C426.5,560.3 434,564 434,571 C434,575 431,578 428,581 Q423,586.5 418,586.3 Q412,586.5 407.5,581 C404.5,578 402.5,575 402.5,571 Z" stroke-width="1.2"/>
<ellipse cx="418.3" cy="566" rx="6.9" ry="3.4" stroke-width="1.1"/>
<path d="M405.5,567 Q418,575 431,567" stroke-width="0.9"/>
<path d="M404,574 Q406,572 408,575 L409,580 M409,576.5 Q411.5,574.5 413,578 L413.5,584 M414,577.5 Q416.5,575.5 418,579 L418,585.5 M419.5,578 Q422,576 423,579.5 L422.5,585 M424.5,577 Q427,575 428,578.5 L427,582.5 M429,575 Q431.5,573 432.5,576" stroke-width="1.3"/>
<circle cx="405.5" cy="572.5" r="0.9" fill="#222"/><circle cx="431" cy="572.5" r="0.9" fill="#222"/>
<!-- 17 nut -->
<path d="M409,593 L413,590 L424.5,590 L428.2,593 L428.2,599.5 L424.5,603.5 L413,603.5 L409,599.5 Z" stroke-width="1.2"/>
<path d="M409,594.5 Q418.6,599 428.2,594.5 M413.5,598 L413.5,603.3 M423.7,598 L423.7,603.3" stroke-width="0.9"/>
<ellipse cx="418.3" cy="592.6" rx="3.6" ry="2.2" stroke-width="1.1" fill="#444"/>
<!-- 6 lower -->
<path d="M426.7,617 L439.5,612.5 L444.8,614.5 L444.8,645.5 L432,652.8 L426.7,650.5 Z" stroke-width="1.2" fill="#fff"/>
<path d="M429.5,619.5 L439.8,615.8 L439.8,645 L429.5,649.5 Z" fill="#555" stroke-width="0.8"/>
<path d="M439.8,615.8 L444.8,614.5 M439.8,645 L444.8,645.5" stroke-width="0.9"/>
<path d="M430,623 L439.5,619.5 M430,628 L439.5,624.5 M430,633 L439.5,629.5 M430,638 L439.5,634.5 M430,643 L439.5,639.5" stroke="#999" stroke-width="0.9"/>
<path d="M433.5,611.5 L434.5,614" stroke-width="2"/>
<ellipse cx="436.5" cy="647" rx="2.3" ry="1.8" stroke="#aaa" stroke-width="0.8"/>
<!-- 7 bolt -->
<path d="M438.4,648 L450,655.8" stroke-dasharray="2,1.5"/>
<path d="M451,653.5 L461.5,659 L460,662.5 L449.5,657 Z" stroke-width="1.3" fill="#777"/>
<path d="M453,654.5 L451.5,658 M456,656 L454.5,659.5 M459,657.5 L457.5,661" stroke-width="0.8"/>
<ellipse cx="464.5" cy="662.5" rx="3" ry="3.8" transform="rotate(-30 464.5 662.5)" stroke-width="1.1"/>
<g stroke="#666" stroke-width="0.85" fill="none">
<path d="M283.8,64.7 L290,69"/>
<path d="M263.3,92 L284.7,105.6 M263.3,92 L285.7,134.8"/>
<path d="M164,146.3 L164,158"/>
<path d="M203.5,141.4 L203.5,157"/>
<path d="M252.6,169.6 L238,175.4 M252.6,169.6 L239,182.3"/>
<path d="M235,194 L218.5,191"/>
<path d="M223.4,204.6 L211.5,202"/>
<path d="M149.5,197.8 L162,197.8"/>
<path d="M186.4,227 L199,225"/>
<path d="M319.5,172 L309,181"/>
<path d="M228.5,281 L228.5,273"/>
<path d="M194,303 L204.5,307"/>
<path d="M228.5,361 L228.5,376"/>
<path d="M218,403 L210.5,402"/>
<path d="M162,395 L162.5,403.5"/>
<path d="M182,401 L177,409.5"/>
<path d="M139.5,426 L141,416.5"/>
<path d="M156,436 L156.4,426"/>
<path d="M320,382 L311.5,386"/>
<path d="M320,412 L309.5,419"/>
<path d="M353,418 L353,430"/>
<path d="M181,508 L181,520"/>
<path d="M202.5,520 L202.5,530"/>
<path d="M228,648 L227,661"/>
<path d="M210.5,658 L210,668"/>
<path d="M410,47 L423,55 M410,47 L421,74"/>
<path d="M452,48 L458,56"/>
<path d="M410,98.8 L419.5,98.8"/>
<path d="M422,143.6 L432,143.6"/>
<path d="M420,176 L432,177"/>
<path d="M410,215 L421,215"/>
<path d="M409,247.7 L421,247.7"/>
<path d="M410,284 L420,284"/>
<path d="M415,304 L427,305"/>
<path d="M480,304 L470,305"/>
<path d="M410,326 L420,326"/>
<path d="M416,350 L427.5,350"/>
<path d="M419,374 L431,374"/>
<path d="M423,395 L433,395"/>
<path d="M474,424 L460,416.5"/>
<path d="M541,133 L543,125"/>
<path d="M556,225 L567,228"/>
<path d="M551,241 L567.5,246.5"/>
<path d="M553,261 L566,267.5"/>
<path d="M460.4,530.5 L460.4,523"/>
<path d="M508,540.3 L492.5,522.8 M508,540.3 L492.5,535.9"/>
<path d="M446,567 L434,569"/>
<path d="M445,593 L430,594"/>
<path d="M414,651 L426,650"/>
<path d="M464.4,628 L464.4,652"/>
</g>

</g>
<circle cx="194.3" cy="598.4" r="16.4" fill="#f8b6b6" stroke="#ee5050" stroke-width="1.3"/>
<g stroke="#555" stroke-width="0.8" fill="none"><path d="M199.2,599.5 L214,580.5 M199.2,599.5 L215,594.5"/></g>
<g opacity="0.995">
<path transform="translate(267.16,60.85)" d="M2.415,-9.66 L3.78,-9.66 L3.78,0 L2.415,0 L2.415,-6.58 L0.735,-6.58 L0.735,-7.98 Z" fill="#1a1a1a" stroke="#1a1a1a" stroke-width="0.55"/><text transform="translate(273.00,60.85) scale(0.75,1)" fill="#1a1a1a" style="text-anchor:start">8</text>
<path transform="translate(247.76,89.85)" d="M2.415,-9.66 L3.78,-9.66 L3.78,0 L2.415,0 L2.415,-6.58 L0.735,-6.58 L0.735,-7.98 Z" fill="#1a1a1a" stroke="#1a1a1a" stroke-width="0.55"/><text transform="translate(253.60,89.85) scale(0.75,1)" fill="#1a1a1a" style="text-anchor:start">4</text>
<text transform="translate(157.16,142.05) scale(0.75,1)" fill="#1a1a1a" style="text-anchor:start">4</text><text transform="translate(163.00,142.05) scale(0.75,1)" fill="#1a1a1a" style="text-anchor:start">4</text>
<text transform="translate(197.16,138.45) scale(0.75,1)" fill="#1a1a1a" style="text-anchor:start">4</text><text transform="translate(203.00,138.45) scale(0.75,1)" fill="#1a1a1a" style="text-anchor:start">5</text>
<text transform="translate(256.16,174.45) scale(0.75,1)" fill="#1a1a1a" style="text-anchor:start">4</text><text transform="translate(262.00,174.45) scale(0.75,1)" fill="#1a1a1a" style="text-anchor:start">6</text>
<text transform="translate(236.96,198.85) scale(0.75,1)" fill="#1a1a1a" style="text-anchor:start">4</text><text transform="translate(242.80,198.85) scale(0.75,1)" fill="#1a1a1a" style="text-anchor:start">2</text>
<text transform="translate(224.16,210.45) scale(0.75,1)" fill="#1a1a1a" style="text-anchor:start">4</text><path transform="translate(230.00,210.45)" d="M2.415,-9.66 L3.78,-9.66 L3.78,0 L2.415,0 L2.415,-6.58 L0.735,-6.58 L0.735,-7.98 Z" fill="#1a1a1a" stroke="#1a1a1a" stroke-width="0.55"/>
<text transform="translate(133.86,201.65) scale(0.75,1)" fill="#1a1a1a" style="text-anchor:start">4</text><text transform="translate(139.70,201.65) scale(0.75,1)" fill="#1a1a1a" style="text-anchor:start">3</text>
<text transform="translate(171.86,232.85) scale(0.75,1)" fill="#1a1a1a" style="text-anchor:start">4</text><text transform="translate(177.70,232.85) scale(0.75,1)" fill="#1a1a1a" style="text-anchor:start">0</text>
<path transform="translate(321.16,170.15)" d="M2.415,-9.66 L3.78,-9.66 L3.78,0 L2.415,0 L2.415,-6.58 L0.735,-6.58 L0.735,-7.98 Z" fill="#1a1a1a" stroke="#1a1a1a" stroke-width="0.55"/><text transform="translate(327.00,170.15) scale(0.75,1)" fill="#1a1a1a" style="text-anchor:start">3</text>
<text transform="translate(253.66,295.75) scale(0.75,1)" fill="#1a1a1a" style="text-anchor:start">2</text><text transform="translate(259.50,295.75) scale(0.75,1)" fill="#1a1a1a" style="text-anchor:start">0</text>
<text transform="translate(222.96,291.85) scale(0.75,1)" fill="#1a1a1a" style="text-anchor:start">3</text><text transform="translate(228.80,291.85) scale(0.75,1)" fill="#1a1a1a" style="text-anchor:start">8</text>
<text transform="translate(177.66,307.35) scale(0.75,1)" fill="#1a1a1a" style="text-anchor:start">3</text><text transform="translate(183.50,307.35) scale(0.75,1)" fill="#1a1a1a" style="text-anchor:start">9</text>
<text transform="translate(222.96,356.45) scale(0.75,1)" fill="#1a1a1a" style="text-anchor:start">3</text><text transform="translate(228.80,356.45) scale(0.75,1)" fill="#1a1a1a" style="text-anchor:start">8</text>
<text transform="translate(224.16,407.65) scale(0.75,1)" fill="#1a1a1a" style="text-anchor:start">3</text><text transform="translate(230.00,407.65) scale(0.75,1)" fill="#1a1a1a" style="text-anchor:start">7</text>
<path transform="translate(155.96,391.15)" d="M2.415,-9.66 L3.78,-9.66 L3.78,0 L2.415,0 L2.415,-6.58 L0.735,-6.58 L0.735,-7.98 Z" fill="#1a1a1a" stroke="#1a1a1a" stroke-width="0.55"/><path transform="translate(161.80,391.15)" d="M2.415,-9.66 L3.78,-9.66 L3.78,0 L2.415,0 L2.415,-6.58 L0.735,-6.58 L0.735,-7.98 Z" fill="#1a1a1a" stroke="#1a1a1a" stroke-width="0.55"/>
<path transform="translate(185.16,397.55)" d="M2.415,-9.66 L3.78,-9.66 L3.78,0 L2.415,0 L2.415,-6.58 L0.735,-6.58 L0.735,-7.98 Z" fill="#1a1a1a" stroke="#1a1a1a" stroke-width="0.55"/><text transform="translate(191.00,397.55) scale(0.75,1)" fill="#1a1a1a" style="text-anchor:start">2</text>
<text transform="translate(135.98,439.75) scale(0.75,1)" fill="#1a1a1a" style="text-anchor:start">4</text>
<text transform="translate(152.08,449.45) scale(0.75,1)" fill="#1a1a1a" style="text-anchor:start">5</text>
<path transform="translate(322.66,379.35)" d="M2.415,-9.66 L3.78,-9.66 L3.78,0 L2.415,0 L2.415,-6.58 L0.735,-6.58 L0.735,-7.98 Z" fill="#1a1a1a" stroke="#1a1a1a" stroke-width="0.55"/><text transform="translate(328.50,379.35) scale(0.75,1)" fill="#1a1a1a" style="text-anchor:start">5</text>
<text transform="translate(323.33,411.10) scale(0.75,1)" fill="#1a1a1a" style="text-anchor:start">2</text>
<path transform="translate(349.98,413.75)" d="M2.415,-9.66 L3.78,-9.66 L3.78,0 L2.415,0 L2.415,-6.58 L0.735,-6.58 L0.735,-7.98 Z" fill="#1a1a1a" stroke="#1a1a1a" stroke-width="0.55"/>
<text transform="translate(177.08,533.60) scale(0.75,1)" fill="#1a1a1a" style="text-anchor:start">8</text>
<text transform="translate(199.58,543.60) scale(0.75,1)" fill="#1a1a1a" style="text-anchor:start">6</text>
<text transform="translate(224.88,644.05) scale(0.75,1)" fill="#1a1a1a" style="text-anchor:start">5</text>
<text transform="translate(207.08,654.85) scale(0.75,1)" fill="#1a1a1a" style="text-anchor:start">4</text>
<text transform="translate(393.66,42.85) scale(0.75,1)" fill="#1a1a1a" style="text-anchor:start">3</text><path transform="translate(399.50,42.85)" d="M2.415,-9.66 L3.78,-9.66 L3.78,0 L2.415,0 L2.415,-6.58 L0.735,-6.58 L0.735,-7.98 Z" fill="#1a1a1a" stroke="#1a1a1a" stroke-width="0.55"/>
<text transform="translate(435.16,41.85) scale(0.75,1)" fill="#1a1a1a" style="text-anchor:start">3</text><text transform="translate(441.00,41.85) scale(0.75,1)" fill="#1a1a1a" style="text-anchor:start">2</text>
<text transform="translate(395.96,103.65) scale(0.75,1)" fill="#1a1a1a" style="text-anchor:start">2</text><path transform="translate(401.80,103.65)" d="M2.415,-9.66 L3.78,-9.66 L3.78,0 L2.415,0 L2.415,-6.58 L0.735,-6.58 L0.735,-7.98 Z" fill="#1a1a1a" stroke="#1a1a1a" stroke-width="0.55"/>
<text transform="translate(407.16,148.65) scale(0.75,1)" fill="#1a1a1a" style="text-anchor:start">2</text><text transform="translate(413.00,148.65) scale(0.75,1)" fill="#1a1a1a" style="text-anchor:start">2</text>
<path transform="translate(404.16,179.85)" d="M2.415,-9.66 L3.78,-9.66 L3.78,0 L2.415,0 L2.415,-6.58 L0.735,-6.58 L0.735,-7.98 Z" fill="#1a1a1a" stroke="#1a1a1a" stroke-width="0.55"/><text transform="translate(410.00,179.85) scale(0.75,1)" fill="#1a1a1a" style="text-anchor:start">9</text>
<text transform="translate(393.66,219.85) scale(0.75,1)" fill="#1a1a1a" style="text-anchor:start">2</text><text transform="translate(399.50,219.85) scale(0.75,1)" fill="#1a1a1a" style="text-anchor:start">3</text>
<text transform="translate(392.66,252.55) scale(0.75,1)" fill="#1a1a1a" style="text-anchor:start">2</text><text transform="translate(398.50,252.55) scale(0.75,1)" fill="#1a1a1a" style="text-anchor:start">4</text>
<text transform="translate(394.56,288.35) scale(0.75,1)" fill="#1a1a1a" style="text-anchor:start">2</text><text transform="translate(400.40,288.35) scale(0.75,1)" fill="#1a1a1a" style="text-anchor:start">5</text>
<text transform="translate(398.46,309.35) scale(0.75,1)" fill="#1a1a1a" style="text-anchor:start">2</text><text transform="translate(404.30,309.35) scale(0.75,1)" fill="#1a1a1a" style="text-anchor:start">7</text>
<text transform="translate(484.16,308.35) scale(0.75,1)" fill="#1a1a1a" style="text-anchor:start">2</text><text transform="translate(490.00,308.35) scale(0.75,1)" fill="#1a1a1a" style="text-anchor:start">7</text>
<text transform="translate(393.66,330.75) scale(0.75,1)" fill="#1a1a1a" style="text-anchor:start">2</text><text transform="translate(399.50,330.75) scale(0.75,1)" fill="#1a1a1a" style="text-anchor:start">6</text>
<text transform="translate(400.16,354.85) scale(0.75,1)" fill="#1a1a1a" style="text-anchor:start">3</text><text transform="translate(406.00,354.85) scale(0.75,1)" fill="#1a1a1a" style="text-anchor:start">0</text>
<text transform="translate(403.66,378.60) scale(0.75,1)" fill="#1a1a1a" style="text-anchor:start">2</text><text transform="translate(409.50,378.60) scale(0.75,1)" fill="#1a1a1a" style="text-anchor:start">8</text>
<text transform="translate(407.16,399.35) scale(0.75,1)" fill="#1a1a1a" style="text-anchor:start">2</text><text transform="translate(413.00,399.35) scale(0.75,1)" fill="#1a1a1a" style="text-anchor:start">9</text>
<text transform="translate(477.91,431.10) scale(0.75,1)" fill="#1a1a1a" style="text-anchor:start">2</text><text transform="translate(483.75,431.10) scale(0.75,1)" fill="#1a1a1a" style="text-anchor:start">8</text>
<text transform="translate(535.16,145.55) scale(0.75,1)" fill="#1a1a1a" style="text-anchor:start">3</text><text transform="translate(541.00,145.55) scale(0.75,1)" fill="#1a1a1a" style="text-anchor:start">3</text>
<text transform="translate(540.56,230.25) scale(0.75,1)" fill="#1a1a1a" style="text-anchor:start">3</text><text transform="translate(546.40,230.25) scale(0.75,1)" fill="#1a1a1a" style="text-anchor:start">4</text>
<text transform="translate(535.66,245.85) scale(0.75,1)" fill="#1a1a1a" style="text-anchor:start">3</text><text transform="translate(541.50,245.85) scale(0.75,1)" fill="#1a1a1a" style="text-anchor:start">5</text>
<text transform="translate(537.16,258.55) scale(0.75,1)" fill="#1a1a1a" style="text-anchor:start">3</text><text transform="translate(543.00,258.55) scale(0.75,1)" fill="#1a1a1a" style="text-anchor:start">6</text>
<text transform="translate(456.98,544.45) scale(0.75,1)" fill="#1a1a1a" style="text-anchor:start">9</text>
<path transform="translate(513.06,546.05)" d="M2.415,-9.66 L3.78,-9.66 L3.78,0 L2.415,0 L2.415,-6.58 L0.735,-6.58 L0.735,-7.98 Z" fill="#1a1a1a" stroke="#1a1a1a" stroke-width="0.55"/><text transform="translate(518.90,546.05) scale(0.75,1)" fill="#1a1a1a" style="text-anchor:start">0</text>
<path transform="translate(450.96,570.15)" d="M2.415,-9.66 L3.78,-9.66 L3.78,0 L2.415,0 L2.415,-6.58 L0.735,-6.58 L0.735,-7.98 Z" fill="#1a1a1a" stroke="#1a1a1a" stroke-width="0.55"/><text transform="translate(456.80,570.15) scale(0.75,1)" fill="#1a1a1a" style="text-anchor:start">6</text>
<path transform="translate(448.16,596.85)" d="M2.415,-9.66 L3.78,-9.66 L3.78,0 L2.415,0 L2.415,-6.58 L0.735,-6.58 L0.735,-7.98 Z" fill="#1a1a1a" stroke="#1a1a1a" stroke-width="0.55"/><text transform="translate(454.00,596.85) scale(0.75,1)" fill="#1a1a1a" style="text-anchor:start">7</text>
<text transform="translate(405.88,654.85) scale(0.75,1)" fill="#1a1a1a" style="text-anchor:start">6</text>
<text transform="translate(461.08,623.65) scale(0.75,1)" fill="#1a1a1a" style="text-anchor:start">7</text>
<text transform="translate(521.62,680.55) scale(0.75,1)" fill="#1a1a1a" style="text-anchor:start">5</text><text transform="translate(527.46,680.55) scale(0.75,1)" fill="#1a1a1a" style="text-anchor:start">7</text><text transform="translate(533.30,680.55) scale(0.75,1)" fill="#1a1a1a" style="text-anchor:start">9</text><text transform="translate(539.14,680.55) scale(0.75,1)" fill="#1a1a1a" style="text-anchor:start">6</text>
</g>
<text transform="translate(192.7,604.7) scale(0.75,1)" fill="#4e1010" style="stroke:#4e1010">3</text>
</svg>
</body></html>
